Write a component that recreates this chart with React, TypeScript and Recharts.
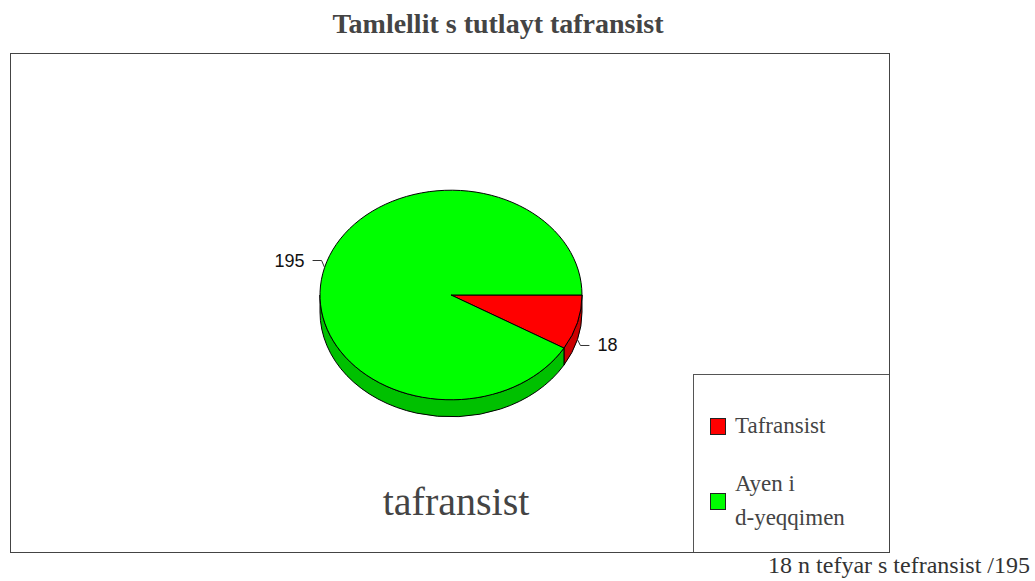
import { Legend, Pie, PieChart } from "recharts";

// chart values
const categories = ["Tafransist", "Ayen i d-yeqqimen"];
const legendLines = [["Tafransist"], ["Ayen i", "d-yeqqimen"]];
const values = [18, 195];
const topColors = ["#ff0000", "#00ff00"];
const sideColors = ["#cc0000", "#00c000"];

const titleText = "Tamlellit s tutlayt tafransist";
const centerText = "tafransist";
const noteText = "18 n tefyar s tefransist /195";

const data = categories.map((name, i) => ({ name, value: values[i] }));

const W = 1035;
const H = 581;
const TILT = 0.8;
const DEPTH = 17;
const SERIF = "'Liberation Serif', 'Times New Roman', serif";
const SANS = "'Liberation Sans', Arial, sans-serif";
const RAD = Math.PI / 180;

function rim(cx: number, cy: number, rx: number, ry: number, a: number, dy = 0) {
  return [cx + rx * Math.cos(a * RAD), cy - ry * Math.sin(a * RAD) + dy];
}

// draws one slice as a tilted 3d sector, using the angles recharts computed
function renderSlice(props: any) {
  const { cx, cy, outerRadius, startAngle, endAngle, index, value } = props;
  const rx = outerRadius;
  const ry = outerRadius * TILT;
  const hi = Math.max(startAngle, endAngle);
  const lo = Math.min(startAngle, endAngle);
  const [x1, y1] = rim(cx, cy, rx, ry, hi);
  const [x2, y2] = rim(cx, cy, rx, ry, lo);
  const large = hi - lo > 180 ? 1 : 0;
  const top = `M${cx},${cy} L${x1},${y1} A${rx},${ry} 0 ${large} 1 ${x2},${y2} Z`;

  // front wall where the rim faces the viewer
  const walls: string[] = [];
  for (let k = Math.floor(lo / 360) - 1; k <= Math.ceil(hi / 360) + 1; k++) {
    const b = Math.min(hi, 360 * k);
    const a = Math.max(lo, 360 * k - 180);
    if (b - a <= 0.01) continue;
    const [bx, by] = rim(cx, cy, rx, ry, b);
    const [ax, ay] = rim(cx, cy, rx, ry, a);
    walls.push(
      `M${bx},${by} A${rx},${ry} 0 0 1 ${ax},${ay} L${ax},${ay + DEPTH} A${rx},${ry} 0 0 0 ${bx},${by + DEPTH} Z`
    );
  }

  const mid = (startAngle + endAngle) / 2;
  const dir = Math.cos(mid * RAD) >= 0 ? 1 : -1;
  const front = Math.sin(mid * RAD) < 0;
  const [px, py] = rim(cx, cy, rx, ry, mid, front ? DEPTH : 0);
  const ly = front ? py + 6 : py - 7;

  return (
    <g key={`slice-${index}`}>
      {walls.map((d, i) => (
        <path key={i} d={d} fill={sideColors[index]} stroke="#000" strokeWidth={1} />
      ))}
      <path d={top} fill={topColors[index]} stroke="#000" strokeWidth={1} />
      <polyline
        points={`${px},${py} ${px + dir * 3},${ly} ${px + dir * 12},${ly}`}
        fill="none"
        stroke="#333"
        strokeWidth={1}
      />
      <text
        x={px + dir * 20}
        y={ly + 6}
        textAnchor={dir > 0 ? "start" : "end"}
        fontFamily={SANS}
        fontSize={18}
        fill="#111"
      >
        {value}
      </text>
    </g>
  );
}

function renderLegend() {
  return (
    <svg width={197} height={179} style={{ display: "block" }}>
      <rect x={0.5} y={0.5} width={196} height={178} fill="#fff" stroke="#555" />
      {legendLines.map((lines, i) => {
        const center = 52 + i * 75;
        return (
          <g key={i}>
            <rect
              x={17.5}
              y={center - 7.5}
              width={15}
              height={16}
              fill={topColors[i]}
              stroke="#222"
            />
            {lines.map((line, k) => (
              <text
                key={k}
                x={42}
                y={center + 7 + (k - (lines.length - 1) / 2) * 34}
                fontFamily={SERIF}
                fontSize={23}
                fill="#444"
              >
                {line}
              </text>
            ))}
          </g>
        );
      })}
    </svg>
  );
}

export default function App() {
  return (
    <div
      style={{
        position: "absolute",
        left: 0,
        top: 0,
        width: W,
        height: H,
        background: "#fff",
      }}
    >
      <PieChart width={W} height={H} margin={{ top: 0, right: 0, bottom: 0, left: 0 }}>
        <Pie
          data={data}
          dataKey="value"
          nameKey="name"
          cx={451}
          cy={295}
          outerRadius={131}
          startAngle={0}
          endAngle={-360}
          fill="none"
          stroke="none"
          label={renderSlice}
          labelLine={false}
          isAnimationActive={false}
        />
        <Legend
          content={renderLegend}
          wrapperStyle={{ position: "absolute", left: 693, top: 374, width: 197, height: 179 }}
        />
      </PieChart>
      <svg
        width={W}
        height={H}
        style={{ position: "absolute", left: 0, top: 0, pointerEvents: "none" }}
      >
        <text
          x={498}
          y={33}
          textAnchor="middle"
          fontFamily={SERIF}
          fontWeight="bold"
          fontSize={28}
          fill="#444"
        >
          {titleText}
        </text>
        <rect x={10.5} y={53.5} width={879} height={499} fill="none" stroke="#444" />
        <text x={456} y={515} textAnchor="middle" fontFamily={SERIF} fontSize={40} fill="#444">
          {centerText}
        </text>
        <text x={1030} y={573} textAnchor="end" fontFamily={SERIF} fontSize={24} fill="#333">
          {noteText}
        </text>
      </svg>
    </div>
  );
}
